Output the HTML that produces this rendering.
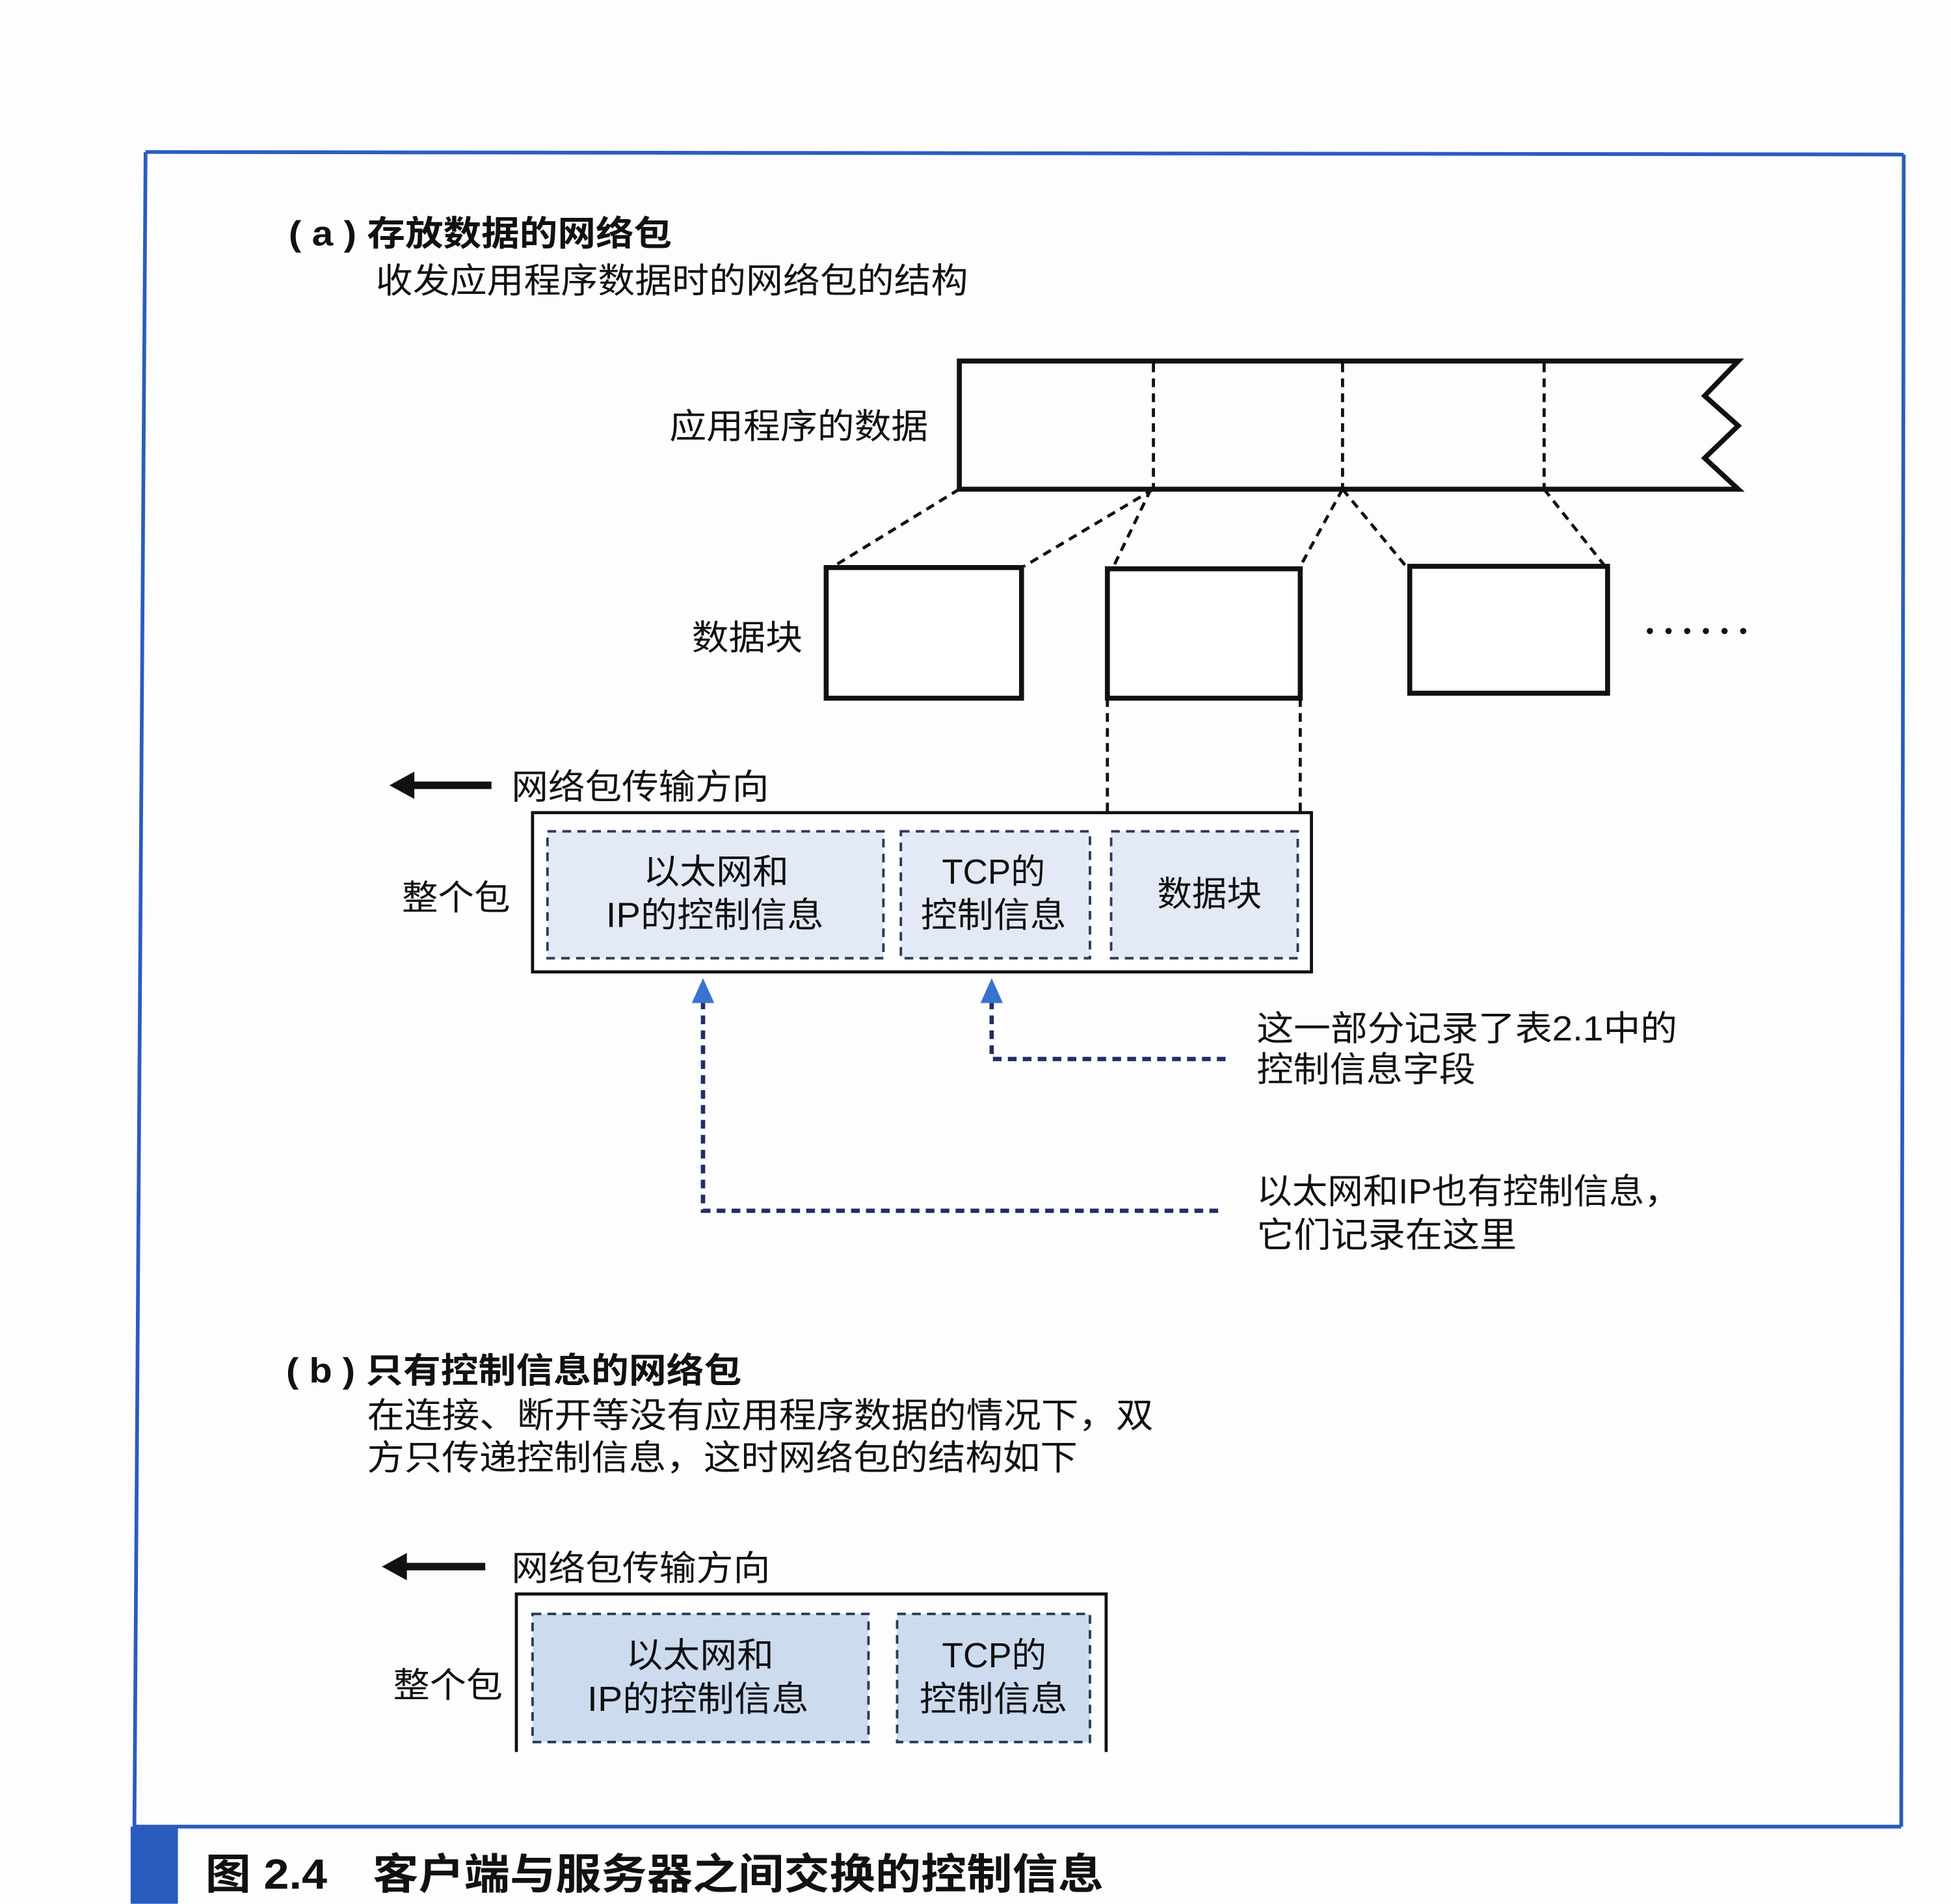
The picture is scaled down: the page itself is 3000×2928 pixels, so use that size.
<!DOCTYPE html>
<html><head><meta charset="utf-8"><style>
html,body{margin:0;padding:0;background:#fff;}
svg{display:block;}
text{font-family:"Liberation Sans","Noto Sans CJK SC",sans-serif;fill:#111;}
</style></head><body>
<svg width="3000" height="2928" viewBox="0 0 1568 1530" xmlns="http://www.w3.org/2000/svg">
<rect width="1568" height="1530" fill="#fdfdfd"/>
<g stroke="#2a5cc0" stroke-width="3" fill="none">
<line x1="117" y1="122" x2="1530" y2="124"/>
<line x1="117" y1="122" x2="108" y2="1470"/>
<line x1="1530" y1="124" x2="1528" y2="1468"/>
<line x1="108" y1="1468" x2="1528" y2="1468"/>
</g>
<rect x="105" y="1468" width="38" height="62" fill="#2a5cc0"/>
<text x="165" y="1518" font-size="34" font-weight="bold" textLength="722" lengthAdjust="spacingAndGlyphs">图 2.4　客户端与服务器之间交换的控制信息</text>

<text x="232" y="197" font-size="28" font-weight="bold" textLength="308" lengthAdjust="spacingAndGlyphs">( a ) 存放数据的网络包</text>
<text x="302" y="235" font-size="28" textLength="476" lengthAdjust="spacingAndGlyphs">收发应用程序数据时的网络包的结构</text>
<text x="538" y="352" font-size="28" textLength="208" lengthAdjust="spacingAndGlyphs">应用程序的数据</text>
<path d="M1397,290 L771,290 L771,393 L1397,393 L1370,368 L1397,342 L1370,318 Z" fill="none" stroke="#111" stroke-width="4"/>
<g stroke="#111" stroke-width="2.5" stroke-dasharray="7,5" fill="none">
<line x1="927" y1="292" x2="927" y2="392"/>
<line x1="1079" y1="292" x2="1079" y2="392"/>
<line x1="1241" y1="292" x2="1241" y2="392"/>
<line x1="771" y1="393" x2="670" y2="455"/>
<line x1="927" y1="393" x2="823" y2="455"/>
<line x1="925" y1="393" x2="895" y2="455"/>
<line x1="1079" y1="393" x2="1045" y2="455"/>
<line x1="1079" y1="393" x2="1130" y2="455"/>
<line x1="1241" y1="393" x2="1290" y2="455"/>
<line x1="890" y1="561" x2="890" y2="668"/>
<line x1="1045" y1="561" x2="1045" y2="668"/>
</g>
<text x="556" y="522" font-size="28" textLength="89" lengthAdjust="spacingAndGlyphs">数据块</text>
<g stroke="#111" stroke-width="4" fill="#fff">
<rect x="664" y="456" width="157" height="105"/>
<rect x="890" y="457" width="155" height="104"/>
<rect x="1133" y="455" width="159" height="102"/>
</g>
<g fill="#111">
<circle cx="1326" cy="507" r="2.5"/><circle cx="1341" cy="507" r="2.5"/><circle cx="1356" cy="507" r="2.5"/>
<circle cx="1371" cy="507" r="2.5"/><circle cx="1386" cy="507" r="2.5"/><circle cx="1401" cy="507" r="2.5"/>
</g>

<path d="M313,631 L333,620 L333,628 L395,628 L395,634 L333,634 L333,642 Z" fill="#111"/>
<text x="411" y="642" font-size="28" textLength="207" lengthAdjust="spacingAndGlyphs">网络包传输方向</text>
<rect x="428" y="653" width="626" height="128" fill="#fff" stroke="#111" stroke-width="2.5"/>
<g fill="#e3eaf5" stroke="#2a3a5a" stroke-width="2" stroke-dasharray="7,5">
<rect x="440" y="668" width="270" height="102"/>
<rect x="724" y="668" width="152" height="102"/>
<rect x="893" y="668" width="150" height="102"/>
</g>
<g font-size="28">
<text x="517" y="710" textLength="117" lengthAdjust="spacingAndGlyphs">以太网和</text>
<text x="487" y="745" textLength="175" lengthAdjust="spacingAndGlyphs">IP的控制信息</text>
<text x="757" y="710" textLength="83" lengthAdjust="spacingAndGlyphs">TCP的</text>
<text x="740" y="745" textLength="117" lengthAdjust="spacingAndGlyphs">控制信息</text>
<text x="930" y="728" textLength="84" lengthAdjust="spacingAndGlyphs">数据块</text>
<text x="323" y="731" textLength="87" lengthAdjust="spacingAndGlyphs">整个包</text>
</g>

<g stroke="#1f2f66" stroke-width="3.5" stroke-dasharray="7,5" fill="none">
<polyline points="797,804 797,851 988,851"/>
<polyline points="565,804 565,973 982,973"/>
</g>
<path d="M565,786 L556,806 L574,806 Z M797,786 L788,806 L806,806 Z" fill="#3a72d0"/>
<g font-size="28">
<text x="1010" y="836" textLength="338" lengthAdjust="spacingAndGlyphs">这一部分记录了表2.1中的</text>
<text x="1010" y="869" textLength="176" lengthAdjust="spacingAndGlyphs">控制信息字段</text>
<text x="1010" y="967" textLength="340" lengthAdjust="spacingAndGlyphs">以太网和IP也有控制信息，</text>
<text x="1010" y="1002" textLength="209" lengthAdjust="spacingAndGlyphs">它们记录在这里</text>
</g>

<text x="230" y="1111" font-size="28" font-weight="bold" textLength="366" lengthAdjust="spacingAndGlyphs">( b ) 只有控制信息的网络包</text>
<text x="295" y="1147" font-size="28" textLength="632" lengthAdjust="spacingAndGlyphs">在连接、断开等没有应用程序数据的情况下，双</text>
<text x="295" y="1181" font-size="28" textLength="571" lengthAdjust="spacingAndGlyphs">方只传递控制信息，这时网络包的结构如下</text>
<path d="M307,1259 L327,1248 L327,1256 L390,1256 L390,1262 L327,1262 L327,1270 Z" fill="#111"/>
<text x="411" y="1270" font-size="28" textLength="208" lengthAdjust="spacingAndGlyphs">网络包传输方向</text>
<polyline points="415,1408 415,1281 889,1281 889,1408" fill="none" stroke="#111" stroke-width="2.5"/>
<g fill="#cddbef" stroke="#2a3a5a" stroke-width="2" stroke-dasharray="7,5">
<rect x="428" y="1297" width="270" height="103"/>
<rect x="721" y="1297" width="155" height="103"/>
</g>
<g font-size="28">
<text x="503" y="1340" textLength="119" lengthAdjust="spacingAndGlyphs">以太网和</text>
<text x="472" y="1375" textLength="178" lengthAdjust="spacingAndGlyphs">IP的控制信息</text>
<text x="757" y="1340" textLength="84" lengthAdjust="spacingAndGlyphs">TCP的</text>
<text x="739" y="1375" textLength="119" lengthAdjust="spacingAndGlyphs">控制信息</text>
<text x="316" y="1364" textLength="88" lengthAdjust="spacingAndGlyphs">整个包</text>
</g>
</svg>
</body></html>
